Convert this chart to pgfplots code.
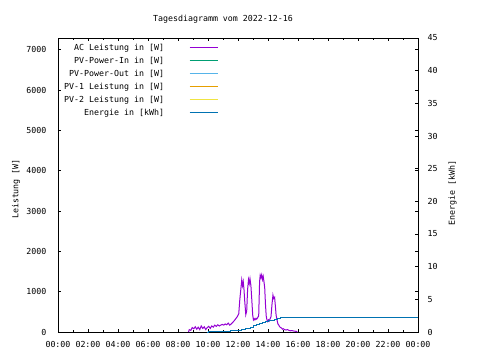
\documentclass[border=0pt]{standalone}
\usepackage{fontspec}
\setmainfont{DejaVu Sans Mono}
\usepackage{pgfplots}
\pgfplotsset{compat=1.18}
\newcommand\gf{\fontsize{8.3}{10}\selectfont}
\definecolor{cac}{HTML}{9400D3}
\definecolor{cin}{HTML}{009E73}
\definecolor{cout}{HTML}{56B4E9}
\definecolor{cpv1}{HTML}{E69F00}
\definecolor{cpv2}{HTML}{F0E442}
\definecolor{cen}{HTML}{0072B2}
\begin{document}
\begin{tikzpicture}
\path[use as bounding box] (-58pt,-28pt) rectangle (422pt,332pt);
\begin{axis}[
  at={(0pt,0pt)}, anchor=south west,
  scale only axis, width=360pt, height=294pt,
  xmin=0, xmax=24, ymin=0, ymax=7290,
  xtick={0,2,...,24},
  xticklabels={00:00,02:00,04:00,06:00,08:00,10:00,12:00,14:00,16:00,18:00,20:00,22:00,00:00},
  minor x tick num=1,
  ytick={0,1000,...,7000},
  xtick pos=both, ytick pos=both, yticklabel pos=left,
  tick align=inside,
  major tick length=3pt, minor tick length=2pt,
  every tick/.style={black, line width=0.8pt},
  axis line style={line width=0.8pt},
  /pgf/number format/assume math mode=true,
  /pgf/number format/1000 sep={},
  ticklabel style={font=\gf},
  yticklabel style={xshift=-8pt},
  xticklabel style={yshift=-6pt},
  legend plot pos=right,
  legend cell align=right,
  legend style={at={(axis description cs:0,1)}, anchor=north west, xshift=6pt, yshift=-5.5pt,
    draw=none, fill=none, inner sep=0pt, row sep=4.5pt, column sep=25pt,
    font=\gf, nodes={inner sep=0pt, text height=6.5pt, text depth=2pt}},
  legend image code/.code={\draw[#1] (0pt,0pt) -- (28pt,0pt);},
]
\addplot[cac, line width=1pt] coordinates {
(8.70,0) (8.75,60) (8.85,40) (8.95,110) (9.05,80) (9.15,130) (9.25,70) (9.35,120)
(9.45,60) (9.55,150) (9.65,90) (9.75,130) (9.85,60) (9.95,110) (10.05,140) (10.15,90)
(10.25,150) (10.35,120) (10.45,170) (10.55,140) (10.65,180) (10.75,150) (10.85,170)
(10.95,190) (11.05,170) (11.15,200) (11.25,180) (11.35,220) (11.45,170) (11.55,200)
(11.65,240) (11.75,280) (11.85,330) (11.95,380) (12.05,450) (12.12,800) (12.20,1100)
(12.25,1290) (12.30,1150) (12.35,1250) (12.40,1050) (12.45,760) (12.52,430) (12.58,520)
(12.64,1050) (12.70,1300) (12.75,1200) (12.80,1320) (12.86,1150) (12.92,800) (12.98,420)
(13.03,300) (13.08,330) (13.13,300) (13.20,340) (13.25,320) (13.30,350) (13.38,400)
(13.44,1250) (13.48,1410) (13.53,1350) (13.58,1420) (13.63,1300) (13.68,1380) (13.73,1250)
(13.78,1100) (13.83,700) (13.88,400) (13.93,300) (13.98,260) (14.03,300) (14.08,270)
(14.13,320) (14.20,380) (14.27,700) (14.33,915) (14.38,830) (14.44,860) (14.49,650)
(14.54,420) (14.60,300) (14.66,200) (14.72,170) (14.78,130) (14.84,110) (14.90,100)
(14.96,70) (15.03,80) (15.10,60) (15.20,50) (15.30,60) (15.40,40) (15.50,30) (15.60,35)
(15.70,25) (15.80,20) (15.90,15) (15.95,0)
};
\addlegendentry{AC Leistung in [W]}
\addlegendimage{cin, line width=1pt}
\addlegendentry{PV-Power-In in [W]}
\addlegendimage{cout, line width=1pt}
\addlegendentry{PV-Power-Out in [W]}
\addlegendimage{cpv1, line width=1pt}
\addlegendentry{PV-1 Leistung in [W]}
\addlegendimage{cpv2, line width=1pt}
\addlegendentry{PV-2 Leistung in [W]}
\addlegendimage{cen, line width=1pt}
\addlegendentry{Energie in [kWh]}
\end{axis}
\begin{axis}[
  at={(0pt,0pt)}, anchor=south west,
  scale only axis, width=360pt, height=294pt,
  xmin=0, xmax=24, ymin=0, ymax=45,
  axis x line=none, axis y line*=right,
  ytick={0,5,...,45},
  tick align=inside,
  major tick length=3pt,
  every tick/.style={black, line width=0.8pt},
  axis line style={line width=0.8pt, -},
  /pgf/number format/assume math mode=true,
  ticklabel style={font=\gf},
  yticklabel style={xshift=6pt},
]
\addplot[cen, line width=1pt, const plot] coordinates {
(9.9,0) (10.0,0.02) (10.5,0.05) (11.0,0.1) (11.2,0.15) (11.5,0.2) (11.9,0.3) (12.2,0.4)
(12.5,0.55) (12.8,0.75) (13.0,0.95) (13.2,1.1) (13.4,1.25) (13.6,1.45) (13.8,1.6)
(14.0,1.7) (14.2,1.8) (14.4,1.95) (14.6,2.1) (14.8,2.15) (24.0,2.15)
};
\end{axis}
\node[font=\gf] at (165pt,313pt) {Tagesdiagramm vom 2022-12-16};
\node[font=\gf, rotate=90] at (-42pt,143pt) {Leistung [W]};
\node[font=\gf, rotate=90] at (394.5pt,139pt) {Energie [kWh]};
\end{tikzpicture}
\end{document}
